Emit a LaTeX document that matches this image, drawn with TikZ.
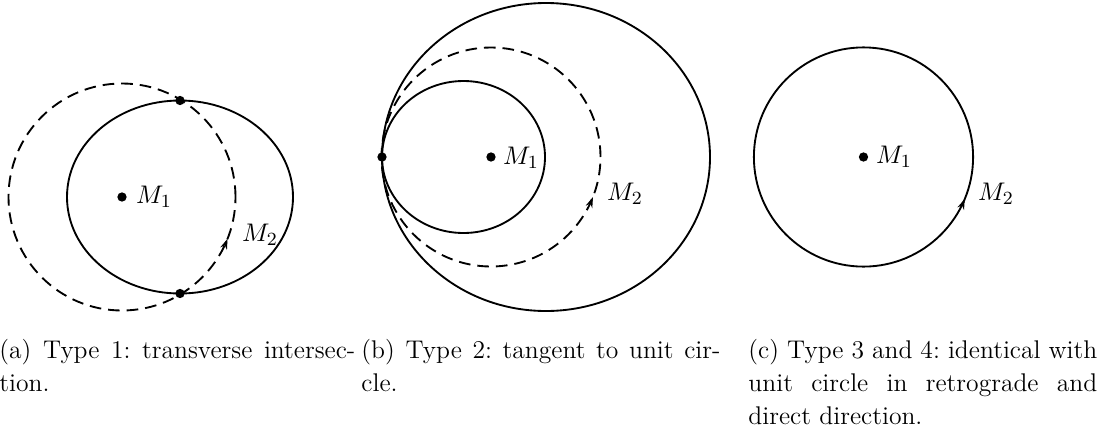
\documentclass[tikz,border=0pt]{standalone}
\usetikzlibrary{arrows.meta}
\begin{document}
\frenchspacing
\begin{tikzpicture}[x=0.43pt,y=0.43pt,
  font=\fontsize{11}{14.2}\selectfont,
  orbit/.style={line width=0.8pt},
  unitc/.style={line width=0.8pt, dash pattern=on 5pt off 3pt},
  dot/.style={fill=black, circle, inner sep=0pt, minimum size=4pt},
  tipc/.style={line width=0.8pt, solid, -{Stealth[length=4.5pt,width=3pt]}},
  lbl/.style={inner sep=0pt},
  captext/.style={inner sep=0pt, anchor=base west}]
\useasboundingbox (0,0) rectangle (1097,430);
% (a)
\coordinate (Ma) at (122,233);
\draw[unitc] (Ma) circle[radius=113.5];
\draw[orbit] (180,233) ellipse[x radius=113, y radius=96.5];
\node[dot] (Ma1) at (Ma) {};
\node[dot] (Pa1) at (180,329.5) {};
\node[dot] (Pa2) at (180,136.5) {};
\draw[tipc] (Ma) ++(-24:113.5) arc[start angle=-24, end angle=-21.6, radius=113.5];
\node[lbl] (La1) at (154,233) {$M_1$};
\node[lbl] (La2) at (260,195) {$M_2$};
% (b)
\coordinate (Mb) at (491,273);
\draw[orbit] (463.5,273) ellipse[x radius=81.5, y radius=76];
\draw[orbit] (546,273) ellipse[x radius=164, y radius=154];
\draw[unitc] (Mb) circle[radius=109.5];
\node[dot] (Mb1) at (Mb) {};
\node[dot] (Pb1) at (382,273) {};
\draw[tipc] (Mb) ++(-24:109.5) arc[start angle=-24, end angle=-21.5, radius=109.5];
\node[lbl] (Lb1) at (521,272) {$M_1$};
\node[lbl] (Lb2) at (625,236) {$M_2$};
% (c)
\coordinate (Mc) at (863.5,273);
\draw[orbit] (Mc) circle[radius=109.6];
\node[dot] (Mc1) at (Mc) {};
\draw[tipc] (Mc) ++(-25:109.6) arc[start angle=-25, end angle=-22.5, radius=109.6];
\node[lbl] (Lc1) at (894,273) {$M_1$};
\node[lbl] (Lc2) at (996,236) {$M_2$};
% captions
\node[captext] (Ca) at (-1,72) {\parbox[t]{153pt}{(a) Type 1: transverse intersec-\linebreak tion.}};
\node[captext] (Cb) at (361,72) {\parbox[t]{154.4pt}{(b) Type 2: tangent to unit cir-\linebreak cle.}};
\node[captext] (Cc) at (748,72) {\parbox[t]{150pt}{(c) Type 3 and 4: identical with\linebreak unit circle in retrograde and\linebreak direct direction.}};
\end{tikzpicture}
\end{document}
